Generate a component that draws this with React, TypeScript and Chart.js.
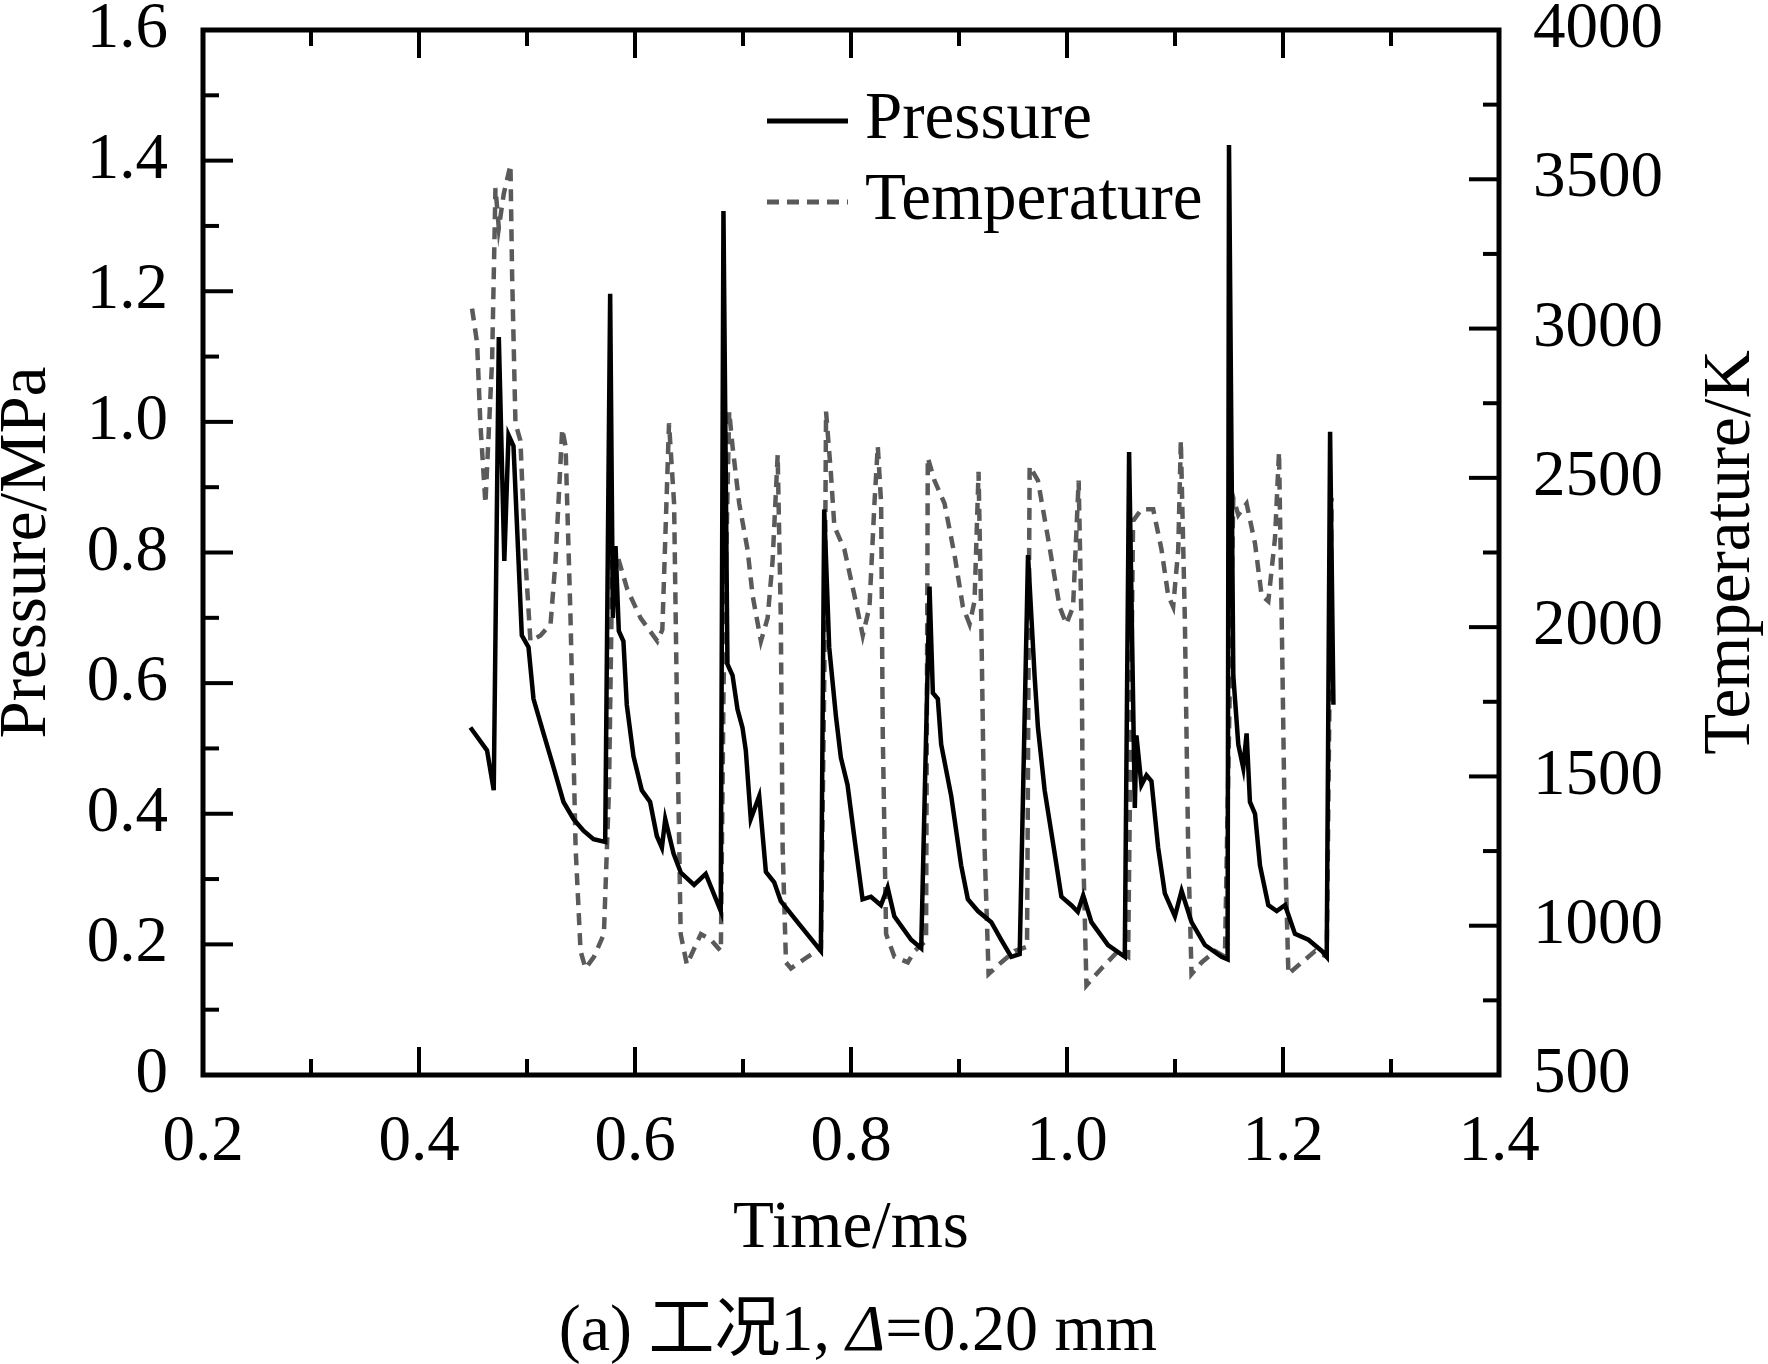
import React, { useEffect, useRef } from 'react';
import Chart from 'chart.js/auto';

// Pressure curve (time in ms, pressure in MPa)
const pressureTime = [
  0.4476, 0.463, 0.4692, 0.4739, 0.479, 0.4829, 0.4875, 0.4952, 0.5014, 0.506,
  0.5153, 0.5246, 0.5338, 0.543, 0.5523, 0.5616, 0.5724, 0.577, 0.5795, 0.582,
  0.585, 0.5893, 0.5924, 0.5986, 0.6063, 0.614, 0.6202, 0.6249, 0.628, 0.6357,
  0.6424, 0.6547, 0.6655, 0.6794, 0.6819, 0.6856, 0.6903, 0.6949, 0.6995, 0.7026,
  0.7072, 0.715, 0.7212, 0.7289, 0.735, 0.7505, 0.7721, 0.7752, 0.7798, 0.786,
  0.7906, 0.7968, 0.803, 0.8107, 0.8185, 0.8277, 0.8339, 0.8401, 0.8557, 0.865,
  0.8727, 0.8758, 0.8804, 0.8835, 0.8928, 0.902, 0.9082, 0.9175, 0.9299, 0.9391,
  0.9484, 0.9562, 0.9639, 0.97, 0.9731, 0.9793, 0.9886, 0.9948, 1.004, 1.01,
  1.015, 1.0226, 1.038, 1.0535, 1.0575, 1.0628, 1.0643, 1.0689, 1.0736, 1.0782,
  1.0844, 1.0906, 1.0999, 1.1061, 1.1153, 1.1277, 1.1431, 1.1487, 1.15, 1.154,
  1.1586, 1.1632, 1.1663, 1.1694, 1.1741, 1.1787, 1.1864, 1.1942, 1.2019, 1.2111,
  1.2235, 1.2359, 1.2405, 1.2436, 1.2467,
];
const pressureValue = [
  0.532, 0.497, 0.436, 1.13, 0.787, 0.98, 0.963, 0.673, 0.655, 0.576,
  0.523, 0.471, 0.418, 0.392, 0.374, 0.361, 0.357, 1.196, 0.7, 0.81,
  0.68, 0.664, 0.567, 0.488, 0.436, 0.418, 0.366, 0.348, 0.392, 0.339,
  0.31, 0.291, 0.308, 0.251, 1.323, 0.629, 0.612, 0.56, 0.532, 0.497,
  0.392, 0.427, 0.311, 0.295, 0.266, 0.234, 0.19, 0.866, 0.655, 0.55,
  0.486, 0.444, 0.365, 0.269, 0.273, 0.26, 0.287, 0.243, 0.207, 0.194,
  0.748, 0.585, 0.576, 0.506, 0.427, 0.321, 0.269, 0.251, 0.234, 0.207,
  0.181, 0.185, 0.796, 0.611, 0.532, 0.436, 0.339, 0.273, 0.26, 0.25,
  0.275, 0.234, 0.199, 0.181, 0.954, 0.409, 0.52, 0.444, 0.459, 0.45,
  0.348, 0.278, 0.243, 0.282, 0.234, 0.199, 0.181, 0.177, 1.424, 0.611,
  0.506, 0.47, 0.523, 0.418, 0.4, 0.321, 0.26, 0.251, 0.26, 0.216,
  0.207, 0.19, 0.181, 0.985, 0.567,
];

// Temperature curve (time in ms, temperature in K)
const temperatureTime = [
  0.4491, 0.4538, 0.4568, 0.4615, 0.4677, 0.4708, 0.4739, 0.4785, 0.4847, 0.4862,
  0.4893, 0.4939, 0.4986, 0.5032, 0.5125, 0.5218, 0.5264, 0.5326, 0.5357, 0.5403,
  0.545, 0.5496, 0.5542, 0.562, 0.5712, 0.5759, 0.579, 0.5836, 0.5929, 0.6052,
  0.6207, 0.6253, 0.6315, 0.6362, 0.6392, 0.6423, 0.648, 0.661, 0.6702, 0.6795,
  0.682, 0.6872, 0.6903, 0.6965, 0.7042, 0.7089, 0.7166, 0.7228, 0.7274, 0.7321,
  0.735, 0.7367, 0.7398, 0.7444, 0.7599, 0.7722, 0.7753, 0.7769, 0.7815, 0.7846,
  0.7939, 0.8032, 0.8109, 0.8171, 0.8217, 0.8248, 0.8279, 0.8294, 0.8325, 0.8402,
  0.8526, 0.8588, 0.8695, 0.8711, 0.8773, 0.8866, 0.8959, 0.9036, 0.9098, 0.9144,
  0.9181, 0.9206, 0.9237, 0.9274, 0.9391, 0.9515, 0.963, 0.9654, 0.9731, 0.9824,
  0.9932, 0.9994, 1.0056, 1.0108, 1.0133, 1.0149, 1.018, 1.0319, 1.0474, 1.0566,
  1.0612, 1.069, 1.0798, 1.0875, 1.0937, 1.0983, 1.103, 1.1054, 1.1091, 1.1122,
  1.1153, 1.1246, 1.137, 1.1462, 1.154, 1.1586, 1.1663, 1.1741, 1.1802, 1.1864,
  1.1926, 1.1963, 1.1988, 1.2019, 1.205, 1.2173, 1.2297, 1.2405, 1.245,
];
const temperatureValue = [
  3067, 2952, 2683, 2414, 2895, 3471, 3337, 3452, 3548, 3183,
  2683, 2625, 2222, 1953, 1972, 2010, 2222, 2664, 2606, 2030,
  1261, 915, 857, 896, 972, 1453, 2222, 2241, 2126, 2030,
  1953, 1991, 2683, 2414, 1645, 972, 870, 972, 953, 915,
  1800, 2722, 2606, 2414, 2260, 2106, 1953, 2030, 2222, 2577,
  2030, 1261, 877, 857, 896, 925, 1838, 2722, 2510, 2337,
  2260, 2106, 1972, 2068, 2414, 2606, 2414, 1645, 972, 896,
  877, 915, 950, 2568, 2491, 2414, 2241, 2068, 2010, 2087,
  2520, 2030, 1261, 838, 877, 915, 930, 2539, 2491, 2299,
  2068, 2010, 2068, 2491, 2030, 1261, 800, 857, 915, 896,
  2356, 2395, 2395, 2260, 2106, 2068, 2260, 2625, 2030, 1261,
  838, 877, 915, 896, 2433, 2376, 2414, 2280, 2106, 2087,
  2299, 2587, 2030, 1261, 838, 877, 915, 896, 2433,
];

const FONT = "'Liberation Serif', 'Times New Roman', serif";
const CJK_FONT = "'Liberation Serif', 'Noto Sans CJK SC', serif";
const FS = 65;

const toPoints = (xs: number[], ys: number[]) => xs.map((x, i) => ({ x, y: ys[i] }));

const framePlugin = {
  id: 'frame',
  afterDraw(chart: any) {
    const { ctx, chartArea: a, scales } = chart;
    const line = (x0: number, y0: number, x1: number, y1: number) => {
      ctx.beginPath();
      ctx.moveTo(x0, y0);
      ctx.lineTo(x1, y1);
      ctx.stroke();
    };
    ctx.save();
    ctx.strokeStyle = '#000';
    ctx.lineWidth = 4;
    // inward tick marks, major and minor
    for (let i = 0; i <= 12; i++) {
      const px = scales.x.getPixelForValue(0.2 + i * 0.1);
      const len = i % 2 === 0 ? 28 : 16;
      line(px, a.bottom, px, a.bottom - len);
      line(px, a.top, px, a.top + len);
    }
    for (let i = 0; i <= 16; i++) {
      const py = scales.y.getPixelForValue(i * 0.1);
      line(a.left, py, a.left + (i % 2 === 0 ? 30 : 16), py);
    }
    for (let i = 0; i <= 14; i++) {
      const py = scales.y1.getPixelForValue(500 + i * 250);
      line(a.right, py, a.right - (i % 2 === 0 ? 30 : 16), py);
    }
    ctx.lineWidth = 5;
    ctx.strokeRect(a.left, a.top, a.right - a.left, a.bottom - a.top);

    // legend
    ctx.fillStyle = '#000';
    ctx.font = `${FS + 2}px ${FONT}`;
    ctx.textAlign = 'left';
    ctx.textBaseline = 'alphabetic';
    chart.data.datasets.forEach((ds: any, i: number) => {
      const ly = 121 + i * 81;
      ctx.strokeStyle = ds.borderColor;
      ctx.lineWidth = 5;
      ctx.setLineDash(ds.borderDash || []);
      line(767, ly, 848, ly);
      ctx.setLineDash([]);
      ctx.fillText(ds.label, 865, ly + 17);
    });

    // right axis title, rotated like the left one
    ctx.font = `${FS + 2}px ${FONT}`;
    ctx.save();
    ctx.translate(1731, (a.top + a.bottom) / 2);
    ctx.rotate(-Math.PI / 2);
    ctx.textAlign = 'center';
    ctx.textBaseline = 'middle';
    ctx.fillText('Temperature/K', 0, 0);
    ctx.restore();

    // caption with italic Delta
    const cs = FS + 1;
    const parts = [
      { t: '(a) 工况1, ', f: `${cs}px ${CJK_FONT}` },
      { t: 'Δ', f: `italic ${cs}px ${FONT}` },
      { t: '=0.20 mm', f: `${cs}px ${FONT}` },
    ];
    let total = 0;
    parts.forEach((p) => {
      ctx.font = p.f;
      total += ctx.measureText(p.t).width;
    });
    let cx = (a.left + a.right) / 2 + 7 - total / 2;
    parts.forEach((p) => {
      ctx.font = p.f;
      ctx.fillText(p.t, cx, 1350);
      cx += ctx.measureText(p.t).width;
    });
    ctx.restore();
  },
};

const App: React.FC = () => {
  const canvasRef = useRef<HTMLCanvasElement>(null);
  const chartRef = useRef<Chart | null>(null);

  useEffect(() => {
    if (!canvasRef.current) return;
    const tickFont = { family: FONT, size: FS, lineHeight: 1.2 };
    // keep the plot frame where the reference has it
    const fixVertical = (width: number) => (s: any) => {
      s.width = width;
      s.paddingTop = 30;
      s.paddingBottom = 0;
    };
    chartRef.current = new Chart(canvasRef.current, {
      type: 'line',
      data: {
        datasets: [
          {
            label: 'Pressure',
            data: toPoints(pressureTime, pressureValue),
            borderColor: '#000000',
            borderWidth: 4.5,
            pointRadius: 0,
            tension: 0,
            yAxisID: 'y',
          },
          {
            label: 'Temperature',
            data: toPoints(temperatureTime, temperatureValue),
            borderColor: '#5a5a5a',
            borderWidth: 4.5,
            borderDash: [12, 8],
            pointRadius: 0,
            tension: 0,
            yAxisID: 'y1',
          },
        ],
      },
      options: {
        animation: false,
        responsive: false,
        devicePixelRatio: 1,
        layout: { padding: { top: 0, left: 0, right: 0, bottom: 89 } },
        plugins: { legend: { display: false }, tooltip: { enabled: false } },
        scales: {
          x: {
            type: 'linear',
            min: 0.2,
            max: 1.4,
            grid: { display: false, drawTicks: false },
            border: { display: false },
            ticks: {
              stepSize: 0.2,
              padding: 29,
              color: '#000',
              font: tickFont,
              callback: (v: any) => Number(v).toFixed(1),
            },
            title: {
              display: true,
              text: 'Time/ms',
              color: '#000',
              font: { family: FONT, size: FS + 2, lineHeight: 1.2 },
              padding: { top: 0, bottom: 5 },
            },
            afterFit: (s: any) => {
              s.height = 200;
            },
          },
          y: {
            position: 'left',
            min: 0,
            max: 1.6,
            grid: { display: false, drawTicks: false },
            border: { display: false },
            ticks: {
              stepSize: 0.2,
              padding: 35,
              color: '#000',
              font: tickFont,
              callback: (v: any) => (Number(v) === 0 ? '0' : Number(v).toFixed(1)),
            },
            title: {
              display: true,
              text: 'Pressure/MPa',
              color: '#000',
              font: { family: FONT, size: FS + 2, lineHeight: 1.2 },
              padding: { top: -13, bottom: 0 },
            },
            afterFit: fixVertical(203),
          },
          y1: {
            position: 'right',
            min: 500,
            max: 4000,
            grid: { display: false, drawTicks: false },
            border: { display: false },
            ticks: {
              stepSize: 500,
              padding: 34,
              color: '#000',
              font: tickFont,
              callback: (v: any) => String(Math.round(Number(v))),
            },
            afterFit: fixVertical(269),
          },
        },
      },
      plugins: [framePlugin],
    });
    return () => {
      if (chartRef.current) {
        chartRef.current.destroy();
        chartRef.current = null;
      }
    };
  }, []);

  return (
    <div style={{ position: 'absolute', left: 0, top: 0, width: 1768, height: 1364, background: '#fff' }}>
      <canvas ref={canvasRef} width={1768} height={1364} />
    </div>
  );
};

export default App;
